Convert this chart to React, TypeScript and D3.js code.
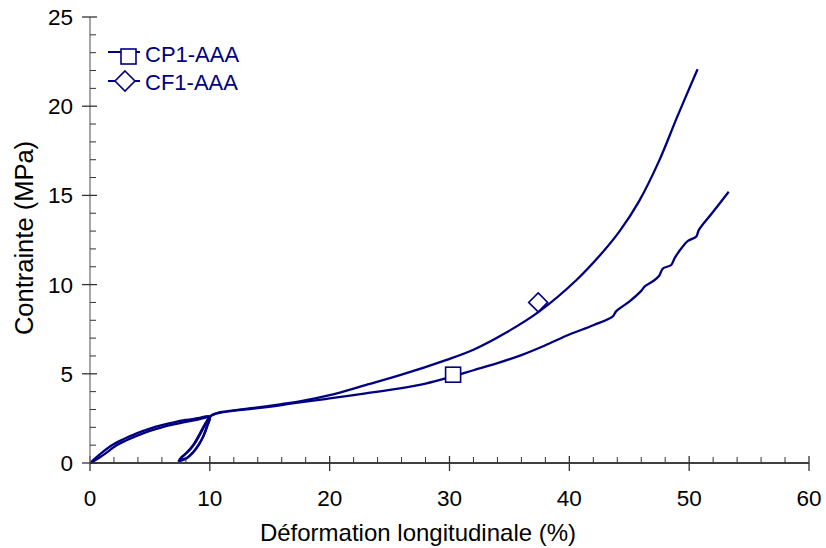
import React from "react";
import * as d3 from "d3";

const W = 826;
const H = 548;

const xTicks = [0, 10, 20, 30, 40, 50, 60];
const yTicks = [0, 5, 10, 15, 20, 25];
const xMinor = [2, 4, 6, 8, 12, 14, 16, 18, 22, 24, 26, 28, 32, 34, 36, 38, 42, 44, 46, 48, 52, 54, 56, 58];
const yMinor = [1, 2, 3, 4, 6, 7, 8, 9, 11, 12, 13, 14, 16, 17, 18, 19, 21, 22, 23, 24];

const seriesNames = ["CP1-AAA", "CF1-AAA"];

// CP1-AAA strain (%), stress (MPa)
const cp1X = [0, 0.5, 1, 1.5, 2, 2.5, 3, 4, 5, 6, 7, 8, 9, 10,
  9.75, 9.45, 9.05, 8.55, 8.05, 7.4,
  7.6, 8.1, 8.6, 9.0, 9.4, 9.8, 10.1, 10.5, 11, 12, 14, 16, 17.5, 20, 23, 26, 28, 30, 32, 34, 36, 38, 40, 42, 43.6,
  43.9, 45, 46, 46.3, 47, 47.5, 47.8, 48.5, 48.8, 49.6, 49.9, 50.6, 50.8, 51.9, 53.3];
const cp1Y = [0, 0.18, 0.4, 0.64, 0.9, 1.1, 1.26, 1.55, 1.8, 2.0, 2.16, 2.3, 2.43, 2.55,
  2.05, 1.5, 1.0, 0.55, 0.25, 0.12,
  0.3, 0.6, 1.0, 1.45, 1.95, 2.4, 2.65, 2.76, 2.84, 2.93, 3.08, 3.25, 3.4, 3.62, 3.9, 4.2, 4.45, 4.8, 5.2, 5.6, 6.05, 6.6, 7.2, 7.72, 8.2,
  8.5, 9.05, 9.65, 9.9, 10.2, 10.5, 10.9, 11.1, 11.5, 12.25, 12.45, 12.7, 13.05, 14.0, 15.2];

// CF1-AAA strain (%), stress (MPa)
const cf1X = [0, 0.5, 1, 1.5, 2, 2.5, 3, 4, 5, 6, 7, 8, 9, 10,
  9.8, 9.5, 9.1, 8.6, 8.1, 7.5,
  7.7, 8.2, 8.7, 9.1, 9.5, 9.85, 10.2, 10.6, 11, 12, 14, 16, 17.5, 20, 23, 26, 29.7, 32, 34.7, 37.5, 40.6, 42.5, 44.2, 45.8, 47.5, 49, 50.7];
const cf1Y = [0, 0.3, 0.58, 0.84, 1.06, 1.24, 1.4, 1.69, 1.93, 2.12, 2.28, 2.41, 2.51, 2.61,
  2.1, 1.55, 1.05, 0.6, 0.3, 0.18,
  0.35, 0.65, 1.05, 1.5, 2.0, 2.45, 2.7, 2.8, 2.86, 2.95, 3.12, 3.3, 3.45, 3.8, 4.37, 4.95, 5.77, 6.35, 7.3, 8.5, 10.26, 11.6, 13.0, 14.65, 16.95, 19.4, 22.07];

const markerSquare = [30.3, 4.95];
const markerDiamond = [37.4, 9.0];

const FONT = "'Liberation Sans', Arial, sans-serif";
const NAVY = "#000080";

export default function App() {
  const x = d3.scaleLinear().domain([0, 60]).range([90, 809]);
  const y = d3.scaleLinear().domain([0, 25]).range([463, 17]);

  const line = d3
    .line<[number, number]>()
    .x((d) => x(d[0]))
    .y((d) => y(d[1]))
    .curve(d3.curveCatmullRom.alpha(0.5));

  const cp1 = cp1X.map((v, i) => [v, cp1Y[i]] as [number, number]);
  const cf1 = cf1X.map((v, i) => [v, cf1Y[i]] as [number, number]);

  const sq = 15;
  const dm = 9.5;

  return (
    <svg width={W} height={H} style={{ position: "absolute", left: 0, top: 0, background: "#fff" }} fontFamily={FONT}>
      {/* curves */}
      <path d={line(cp1) || ""} fill="none" stroke={NAVY} strokeWidth={2.3} strokeLinejoin="round" />
      <path d={line(cf1) || ""} fill="none" stroke={NAVY} strokeWidth={2.3} strokeLinejoin="round" />

      {/* x axis */}
      <line x1={x(0)} x2={x(60)} y1={y(0)} y2={y(0)} stroke="#000" strokeWidth={1.3} />
      {xTicks.map((t) => (
        <line key={"xt" + t} x1={x(t)} x2={x(t)} y1={y(0) - 7} y2={y(0) + 8} stroke="#333" strokeWidth={1.3} />
      ))}
      {xMinor.map((t) => (
        <line key={"xm" + t} x1={x(t)} x2={x(t)} y1={y(0) - 6} y2={y(0)} stroke="#333" strokeWidth={1} />
      ))}
      {xTicks.map((t) => (
        <text key={"xl" + t} x={x(t)} y={506} textAnchor="middle" fontSize={22.5} fill="#000">
          {t}
        </text>
      ))}

      {/* y axis */}
      <line x1={x(0)} x2={x(0)} y1={y(0)} y2={y(25)} stroke="#777" strokeWidth={1.3} />
      {yTicks.map((t) => (
        <line key={"yt" + t} x1={x(0) - 8} x2={x(0) + 7} y1={y(t)} y2={y(t)} stroke="#333" strokeWidth={1.3} />
      ))}
      {yMinor.map((t) => (
        <line key={"ym" + t} x1={x(0)} x2={x(0) + 6} y1={y(t)} y2={y(t)} stroke="#333" strokeWidth={1} />
      ))}
      {yTicks.map((t) => (
        <text key={"yl" + t} x={73} y={y(t) + 8} textAnchor="end" fontSize={22.5} fill="#000">
          {t}
        </text>
      ))}

      {/* axis titles */}
      <text x={418} y={541} textAnchor="middle" fontSize={24} fill="#000">
        Déformation longitudinale (%)
      </text>
      <text transform={`translate(33,238) rotate(-90)`} textAnchor="middle" fontSize={25.5} fill="#000">
        Contrainte (MPa)
      </text>

      {/* data markers */}
      <rect x={x(markerSquare[0]) - sq / 2} y={y(markerSquare[1]) - sq / 2} width={sq} height={sq} fill="#fff" stroke={NAVY} strokeWidth={1.6} />
      <path
        d={`M${x(markerDiamond[0])},${y(markerDiamond[1]) - dm} L${x(markerDiamond[0]) + dm},${y(markerDiamond[1])} L${x(markerDiamond[0])},${y(markerDiamond[1]) + dm} L${x(markerDiamond[0]) - dm},${y(markerDiamond[1])} Z`}
        fill="#fff"
        stroke={NAVY}
        strokeWidth={1.6}
      />

      {/* legend */}
      <g>
        <line x1={108} x2={140} y1={52} y2={52} stroke={NAVY} strokeWidth={2} />
        <rect x={121} y={49} width={15} height={15} fill="#fff" stroke={NAVY} strokeWidth={1.6} />
        <text x={145} y={62} fontSize={22} fill={NAVY}>{seriesNames[0]}</text>

        <line x1={108} x2={140} y1={81} y2={81} stroke={NAVY} strokeWidth={2} />
        <path d={`M125,${81 - 10} L135,81 L125,${81 + 10} L115,81 Z`} fill="#fff" stroke={NAVY} strokeWidth={1.6} />
        <text x={145} y={90} fontSize={22} fill={NAVY}>{seriesNames[1]}</text>
      </g>
    </svg>
  );
}
